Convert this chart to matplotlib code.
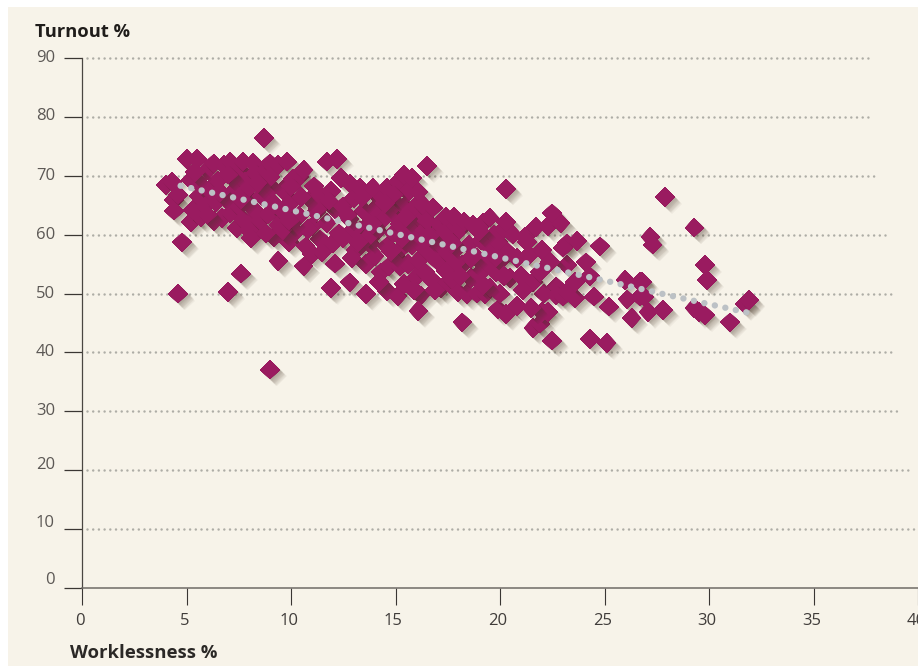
import matplotlib
matplotlib.use('Agg')
import matplotlib.pyplot as plt
import matplotlib.patheffects as pe
from matplotlib.patches import Rectangle

plt.rcParams['font.family'] = ['Open Sans', 'Noto Sans', 'DejaVu Sans']

# points, by stretch of the x axis
left_x = [4.0, 4.3, 4.4, 4.4, 4.6, 5.0, 5.2, 5.2, 5.3, 5.5,
          5.6, 5.7, 5.7, 5.9, 6.0, 6.1, 6.3, 6.3, 6.4, 6.5,
          6.7, 6.8, 6.9, 7.1, 7.1, 7.2, 7.3, 7.4, 7.5, 7.5,
          7.7, 7.7, 7.8, 7.9, 8.0, 8.0, 8.1, 8.2, 8.2, 8.3,
          4.8, 7.6, 4.6, 7.0, 8.7, 5.4, 6.0, 6.6, 7.0, 7.6]
left_y = [68.4, 69.0, 65.9, 64.1, 66.8, 72.8, 69.3, 62.2, 64.2, 72.8,
          66.5, 63.0, 68.4, 64.8, 71.0, 67.6, 72.1, 62.3, 65.6, 69.2,
          62.8, 71.8, 66.0, 72.4, 63.6, 69.8, 67.6, 61.1, 71.0, 64.8,
          72.4, 62.6, 69.0, 66.4, 60.8, 68.0, 59.4, 72.2, 64.4, 70.4,
          58.7, 53.4, 50.0, 50.3, 76.4, 70.6, 63.4, 67.2, 70.2, 66.0]

mid1_x = [8.5, 8.6, 8.8, 8.9, 9.0, 9.1, 9.2, 9.2, 9.4, 9.4,
          9.4, 9.6, 9.7, 9.8, 9.9, 10.0, 10.1, 10.2, 10.4, 10.4,
          10.6, 10.6, 10.7, 10.9, 11.0, 11.0, 11.1, 11.2, 11.4, 11.4,
          11.5, 11.7, 11.7, 11.9, 12.0, 12.1, 12.1, 12.2, 11.9, 8.8,
          9.0, 9.6, 10.0, 10.8, 11.3, 11.8, 12.3, 8.4, 9.9, 10.5]
mid1_y = [62.4, 66.6, 71.0, 63.4, 72.1, 68.0, 59.6, 65.2, 71.8, 55.5,
          61.6, 67.6, 63.6, 72.4, 58.8, 65.6, 69.4, 60.4, 69.8, 63.2,
          71.0, 54.6, 58.0, 66.0, 61.4, 56.7, 68.2, 63.8, 59.2, 66.8,
          57.0, 72.4, 62.0, 67.4, 58.6, 55.1, 64.4, 72.9, 50.9, 60.2,
          69.8, 60.8, 68.2, 61.0, 64.6, 65.8, 60.2, 68.8, 62.4, 66.4]

mid2_x = [12.4, 12.5, 12.5, 12.8, 12.8, 12.8, 13.0, 13.1, 13.3, 13.3,
          13.5, 13.6, 13.6, 13.8, 13.8, 13.9, 14.0, 14.0, 14.1, 14.3,
          14.3, 14.4, 14.6, 14.6, 14.6, 14.7, 14.8, 14.9, 15.0, 15.0,
          15.1, 15.1, 15.2, 15.2, 15.3, 15.4, 15.4, 15.4, 15.5, 15.6,
          15.6, 15.7, 15.8, 15.8, 15.9, 16.0, 16.0, 16.1, 16.1, 16.2,
          16.2, 16.2, 16.3, 16.4, 16.5, 13.4, 13.0, 12.9, 13.7, 14.2,
          14.9, 15.5, 12.7, 13.2, 14.5, 15.3, 15.9, 16.4, 14.8, 13.9]
mid2_y = [69.6, 64.8, 59.4, 68.7, 62.6, 51.9, 66.2, 57.4, 67.9, 60.6,
          64.0, 49.9, 55.0, 62.2, 58.4, 67.9, 56.4, 64.4, 60.6, 66.0,
          53.6, 62.6, 67.9, 58.0, 50.4, 54.6, 63.8, 60.2, 56.3, 65.4,
          69.0, 49.6, 61.8, 54.6, 57.8, 70.1, 64.8, 51.6, 60.0, 67.2,
          55.0, 62.2, 69.6, 58.2, 64.6, 52.8, 60.4, 67.3, 55.6, 49.7,
          62.6, 58.4, 65.0, 53.6, 71.7, 66.4, 61.0, 56.0, 59.6, 52.0,
          66.8, 63.0, 63.4, 58.8, 65.4, 59.4, 50.6, 60.8, 57.2, 61.8]

mid3_x = [16.1, 16.5, 16.6, 16.7, 16.8, 16.9, 17.0, 17.1, 17.2, 17.2,
          17.4, 17.4, 17.5, 17.6, 17.7, 17.8, 17.9, 18.0, 18.0, 18.2,
          18.2, 18.3, 18.4, 18.5, 18.6, 18.7, 18.9, 18.9, 19.0, 19.1,
          19.2, 19.3, 19.4, 19.5, 19.5, 19.6, 19.7, 19.8, 19.9, 19.9,
          20.0, 20.1, 20.2, 20.3, 20.3, 20.3, 20.4, 20.5, 20.6, 16.9,
          17.3, 17.9, 18.6, 19.2, 19.8, 20.2, 16.6, 18.1, 17.7, 19.0]
mid3_y = [47.0, 62.4, 57.0, 52.4, 64.6, 60.0, 55.6, 61.8, 50.9, 58.0,
          63.0, 53.8, 56.8, 60.4, 52.4, 63.0, 57.6, 50.2, 60.6, 54.8,
          45.1, 62.2, 49.9, 58.2, 52.6, 61.6, 50.0, 56.0, 53.4, 59.0,
          62.0, 49.9, 55.2, 62.9, 51.0, 57.6, 60.0, 53.6, 47.3, 58.8,
          50.0, 55.8, 61.0, 67.8, 46.5, 62.1, 57.0, 52.6, 60.0, 50.6,
          60.2, 55.4, 56.0, 51.4, 56.2, 53.0, 59.8, 53.0, 58.6, 60.6]

right_x = [20.8, 20.8, 21.0, 21.2, 21.3, 21.4, 21.6, 21.6, 21.7, 21.9,
           22.0, 22.0, 22.1, 22.3, 22.3, 22.5, 22.5, 22.7, 22.7, 22.9,
           23.0, 23.2, 23.2, 23.2, 23.6, 23.6, 23.7, 24.1, 24.3, 24.3,
           24.5, 24.8, 25.1, 25.2, 26.0, 26.1, 26.3, 26.7, 26.7, 26.8,
           26.9, 27.1, 27.2, 27.3, 27.8, 27.9, 29.3, 29.3, 29.5, 29.8,
           29.8, 29.9, 31.0, 31.7, 31.9, 21.1, 21.9, 22.4, 23.0, 21.5]
right_y = [47.9, 56.0, 53.0, 59.6, 58.8, 56.5, 44.1, 52.0, 61.3, 44.9,
           46.9, 57.4, 50.0, 46.9, 61.5, 42.0, 63.6, 51.2, 49.8, 61.9,
           49.5, 58.5, 54.8, 50.3, 49.2, 52.0, 58.9, 55.3, 42.3, 52.9,
           49.5, 58.0, 41.6, 47.8, 52.3, 49.0, 45.8, 52.0, 49.5, 52.0,
           49.5, 46.9, 59.6, 58.3, 47.2, 66.4, 61.2, 47.6, 46.9, 46.3,
           54.8, 52.3, 45.1, 48.2, 48.9, 50.6, 53.6, 55.4, 57.8, 47.6]

# the one low outlier
low_x = [9.0]
low_y = [37.1]

trend_x = [4.72, 8.8, 15.45, 20.55, 25.15, 27.7, 31.8]
trend_y = [68.3, 65.1, 59.8, 55.7, 52.1, 50.0, 46.8]

y_ticks = [0, 10, 20, 30, 40, 50, 60, 70, 80, 90]
x_ticks = [0, 5, 10, 15, 20, 25, 30, 35, 40]
# the dotted lines stop on a slant
grid_levels = [10, 20, 30, 40, 50, 60, 70, 80, 90]
grid_ends = [39.8, 39.5, 39.2, 38.95, 38.7, 38.4, 38.1, 37.85, 37.6]

work_x = left_x + mid1_x + mid2_x + mid3_x + right_x + low_x
turn_y = left_y + mid1_y + mid2_y + mid3_y + right_y + low_y

fig = plt.figure(figsize=(9.18, 6.66), dpi=100, facecolor='white')
fig.add_artist(Rectangle((8 / 918, 0), 910 / 918, 659 / 666, transform=fig.transFigure,
                         facecolor='#f7f3e9', edgecolor='none', zorder=-10))

ax = fig.add_axes([82 / 918, 78 / 666, 836 / 918, 530 / 666])
ax.patch.set_visible(False)
ax.set_xlim(0, 40)
ax.set_ylim(0, 90)

for s in ['top', 'right']:
    ax.spines[s].set_visible(False)
ax.spines['left'].set_color('#4a4642')
ax.spines['left'].set_linewidth(0.9)
ax.spines['bottom'].set_color('#6e6a66')
ax.spines['bottom'].set_linewidth(1.1)

ax.set_xticks(x_ticks)
ax.set_yticks(y_ticks)
ax.tick_params(axis='x', length=12, width=0.8, color='#3a3633', labelbottom=False)
ax.tick_params(axis='y', length=13, width=0.9, color='#3a3633', labelleft=False)

# tick labels by hand, the low y labels sit a bit above their ticks
y_shift = [6, 4.5, 3.5, 0.5, 0, 0, 0, 0, 0.5, 0]
for v, dy in zip(y_ticks, y_shift):
    ax.annotate(str(v), (0, v), xytext=(-19.5, dy), textcoords='offset points',
                ha='right', va='center', fontsize=12, color='#5c5855', annotation_clip=False)
for v in x_ticks:
    ax.annotate(str(v), (v, 0), xytext=(-1.5, -23.5), textcoords='offset points',
                ha='center', va='center', fontsize=12, color='#403c3a', annotation_clip=False)

fig.text(35 / 918, 1 - 32 / 666, 'Turnout %', fontsize=13.2, fontweight='bold', color='#1f1c1a',
         ha='left', va='center')
fig.text(70 / 918, 1 - 653 / 666, 'Worklessness %', fontsize=13.3, fontweight='bold', color='#2b2826',
         ha='left', va='center')

for lev, end in zip(grid_levels, grid_ends):
    ax.plot([0.25, end], [lev, lev], color='#aeada6', lw=1.8, zorder=1, clip_on=False,
            linestyle=(0, (0.01, 2.27)), dash_capstyle='round')

# soft shadow, a few stacked offset copies
shadow = [pe.withSimplePatchShadow(offset=(d, -d), shadow_rgbFace='#4a3a2a', alpha=0.05)
          for d in (5.0, 4.5, 4.0, 3.5, 3.0, 2.5, 2.0, 1.5, 1.0)]
for z, (xv, yv) in enumerate(zip(work_x, turn_y, strict=True)):
    ax.plot([xv], [yv], marker='D', ms=10, mfc='#9a1b60', mec='none', ls='none', clip_on=False,
            zorder=2 + z * 0.001, path_effects=shadow + [pe.Normal()])

# trend line of round dots on top
ax.plot(trend_x, trend_y, color='#bcc1c5', lw=4.6, zorder=5,
        linestyle=(0, (0.01, 1.67)), dash_capstyle='round')

fig.savefig('out.png', dpi=100, facecolor='white')
